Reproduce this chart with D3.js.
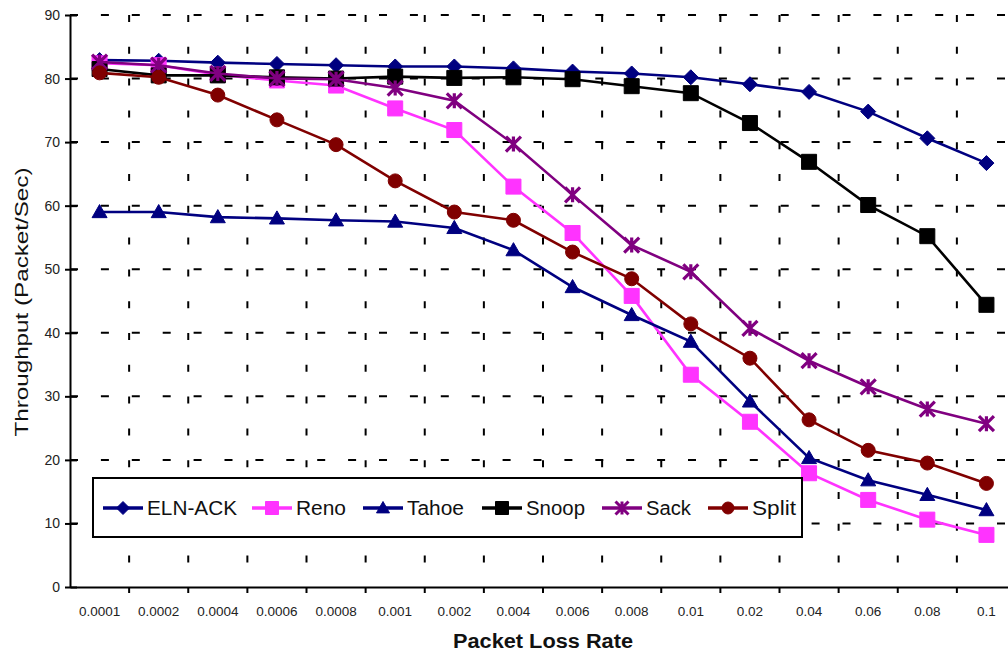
<!DOCTYPE html>
<html>
<head>
<meta charset="utf-8">
<script src="https://cdn.jsdelivr.net/npm/d3@7"></script>
<style>
  html, body { margin: 0; padding: 0; background: #fff; }
  svg { display: block; font-family: "Liberation Sans", Arial, sans-serif; }
</style>
</head>
<body>
<svg id="chart" width="1008" height="654"></svg>
<script>
// ---- data ----
const categories = ["0.0001","0.0002","0.0004","0.0006","0.0008","0.001","0.002","0.004","0.006","0.008","0.01","0.02","0.04","0.06","0.08","0.1"];
const yTicks = [0,10,20,30,40,50,60,70,80,90];
const seriesNames = ["ELN-ACK","Reno","Tahoe","Snoop","Sack","Split"];
const elnAck = [82.9,82.8,82.5,82.3,82.1,81.9,81.9,81.6,81.1,80.8,80.2,79.1,77.9,74.8,70.6,66.7];
const reno   = [82.4,82.1,80.6,79.7,78.9,75.3,71.9,63.0,55.7,45.8,33.4,26.0,17.9,13.7,10.6,8.2];
const tahoe  = [59.0,59.0,58.2,58.0,57.7,57.5,56.5,53.0,47.2,42.8,38.6,29.2,20.3,16.8,14.5,12.1];
const snoop  = [81.5,80.5,80.5,80.2,80.0,80.3,80.1,80.2,79.9,78.8,77.7,73.0,66.9,60.1,55.2,44.4];
const sack   = [82.6,82.1,80.8,80.0,79.9,78.5,76.5,69.7,61.7,53.8,49.6,40.7,35.6,31.5,28.0,25.7];
const split  = [80.9,80.2,77.4,73.5,69.6,63.9,59.0,57.7,52.7,48.5,41.4,36.0,26.3,21.5,19.5,16.3];
const seriesValues = [elnAck, reno, tahoe, snoop, sack, split];

// ---- styles / layout ----
const colors  = ["#000080","#ff33ff","#000080","#000000","#800080","#800000"];
const markers = ["diamond","square","triangle","square","star","circle"];
const legendItemX = [103, 252, 363, 482, 602, 708];
const legendTextW = [90, 50, 57, 59, 45, 44];

const svg = d3.select("#chart");
const plotLeft = 70, plotRight = 1016, plotTop = 15, plotBottom = 587;

const x = d3.scaleBand().domain(categories).range([plotLeft, plotRight]).paddingInner(0).paddingOuter(0);
const y = d3.scaleLinear().domain([0, 90]).range([plotBottom, plotTop]);

// ---- grid (dashed) ----
const grid = svg.append("g");
grid.selectAll("line.h").data(yTicks.filter(d => d > 0)).enter().append("line")
  .attr("class", "h")
  .attr("x1", plotLeft).attr("x2", 1008)
  .attr("y1", d => y(d)).attr("y2", d => y(d))
  .attr("stroke", "#000").attr("stroke-width", 2)
  .attr("stroke-dasharray", "8 22.9");
grid.selectAll("line.v").data(categories.slice(1)).enter().append("line")
  .attr("class", "v")
  .attr("x1", d => x(d)).attr("x2", d => x(d))
  .attr("y1", plotTop).attr("y2", plotBottom)
  .attr("stroke", "#000").attr("stroke-width", 2)
  .attr("stroke-dasharray", "7 24.8");

// ---- y axis ----
const yAxis = svg.append("g").attr("transform", `translate(${plotLeft},0)`)
  .call(d3.axisLeft(y).tickValues(yTicks).tickSize(5).tickSizeOuter(0).tickPadding(5));
yAxis.select(".domain").attr("stroke", "#000").attr("stroke-width", 2);
yAxis.selectAll(".tick line").attr("stroke-width", 2);
yAxis.selectAll(".tick").append("line").attr("x1", 0).attr("x2", 7)
  .attr("stroke", "#000").attr("stroke-width", 2);
yAxis.selectAll(".tick text").attr("font-size", 14).attr("fill", "#222")
  .attr("font-family", "Liberation Sans, Arial, sans-serif");

// ---- x axis ----
const xAxis = svg.append("g").attr("transform", `translate(0,${plotBottom})`)
  .call(d3.axisBottom(x).tickSize(0).tickSizeOuter(0).tickPadding(19));
xAxis.select(".domain").attr("stroke", "#000").attr("stroke-width", 2);
xAxis.selectAll(".tick text").attr("font-size", 13.5).attr("fill", "#222")
  .attr("font-family", "Liberation Sans, Arial, sans-serif");
xAxis.selectAll("line.bt").data(categories.slice(1)).enter().append("line")
  .attr("class", "bt")
  .attr("x1", d => x(d)).attr("x2", d => x(d)).attr("y1", 0).attr("y2", 6)
  .attr("stroke", "#000").attr("stroke-width", 2);

// ---- titles ----
svg.append("text").attr("x", 543).attr("y", 648).attr("text-anchor", "middle")
  .attr("font-size", 20).attr("font-weight", "bold").attr("fill", "#111")
  .attr("textLength", 180).attr("lengthAdjust", "spacingAndGlyphs")
  .text("Packet Loss Rate");
svg.append("text").attr("transform", "translate(28,302) rotate(-90)").attr("text-anchor", "middle")
  .attr("font-size", 18).attr("fill", "#111")
  .attr("textLength", 269).attr("lengthAdjust", "spacingAndGlyphs")
  .text("Throughput (Packet/Sec)");

// ---- markers ----
function markerPath(type, s) {
  switch (type) {
    case "diamond": return `M0,${-s}L${s},0L0,${s}L${-s},0Z`;
    case "square": return `M${-s},${-s}H${s}V${s}H${-s}Z`;
    case "triangle": return `M0,${-s}L${s},${s*0.75}L${-s},${s*0.75}Z`;
    case "circle": return d3.symbol(d3.symbolCircle, Math.PI * s * s)();
    case "star": return `M${-s},${-s}L${s},${s}M${-s},${s}L${s},${-s}M0,${-s}L0,${s}`;
  }
}
const markerSize = { diamond: 7.5, square: 7.5, triangle: 7.5, circle: 7, star: 7.5 };

const line = d3.line().x((d, i) => x(categories[i]) + x.bandwidth() / 2).y(d => y(d));

seriesNames.forEach((name, si) => {
  const g = svg.append("g");
  g.append("path").datum(seriesValues[si]).attr("d", line)
    .attr("fill", "none").attr("stroke", colors[si]).attr("stroke-width", 2.6);
  const m = markers[si];
  g.selectAll("path.m").data(seriesValues[si]).enter().append("path")
    .attr("class", "m")
    .attr("transform", (d, i) => `translate(${x(categories[i]) + x.bandwidth() / 2},${y(d)})`)
    .attr("d", markerPath(m, markerSize[m]))
    .attr("fill", m === "star" ? "none" : colors[si])
    .attr("stroke", colors[si]).attr("stroke-width", m === "star" ? 3.2 : 1);
});

// ---- legend ----
const legend = svg.append("g");
legend.append("rect").attr("x", 93).attr("y", 478).attr("width", 709).attr("height", 59)
  .attr("fill", "#fff").attr("stroke", "#000").attr("stroke-width", 2);
seriesNames.forEach((name, si) => {
  const lx = legendItemX[si];
  const g = legend.append("g");
  g.append("line").attr("x1", lx).attr("x2", lx + 40).attr("y1", 508).attr("y2", 508)
    .attr("stroke", colors[si]).attr("stroke-width", 3.5);
  const m = markers[si];
  g.append("path").attr("transform", `translate(${lx + 20},508)`)
    .attr("d", markerPath(m, markerSize[m] - 1))
    .attr("fill", m === "star" ? "none" : colors[si])
    .attr("stroke", colors[si]).attr("stroke-width", m === "star" ? 3 : 1);
  g.append("text").attr("x", lx + 44).attr("y", 515)
    .attr("font-size", 20).attr("fill", "#111")
    .attr("textLength", legendTextW[si]).attr("lengthAdjust", "spacingAndGlyphs")
    .text(name);
});
</script>
</body>
</html>
